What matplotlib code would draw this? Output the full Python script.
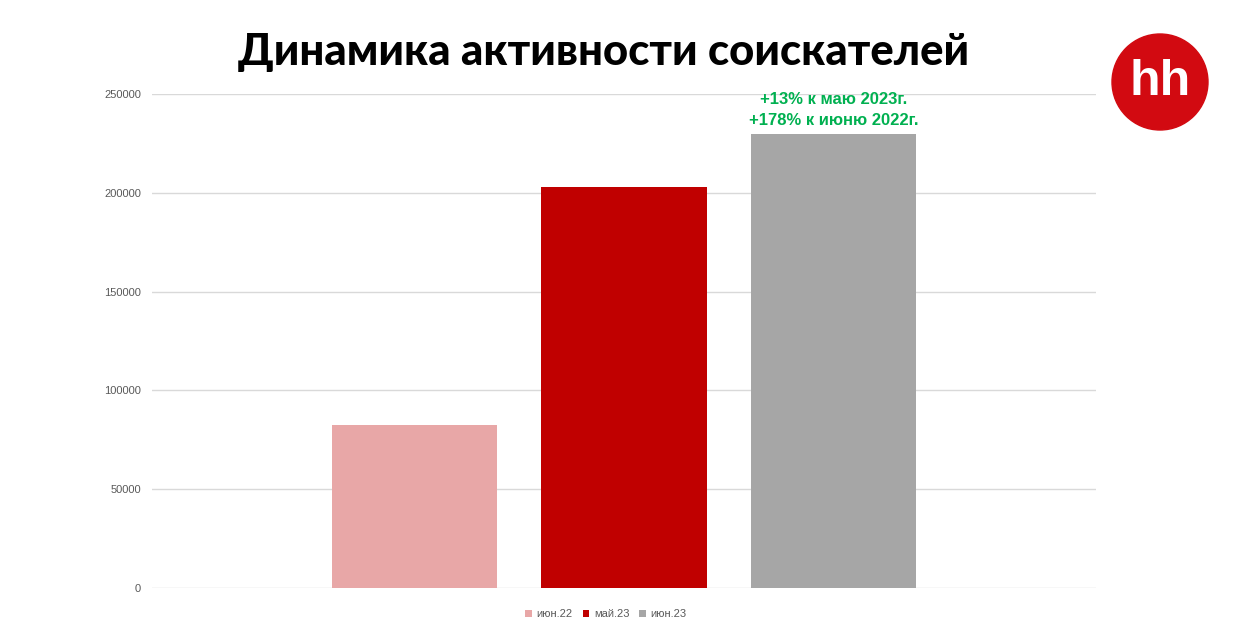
import matplotlib
matplotlib.use("Agg")
import matplotlib.pyplot as plt
from matplotlib.patches import Circle

labels = ["июн.22", "май.23", "июн.23"]
values = [82700, 203000, 230000]
colors = ["#E8A7A7", "#C00000", "#A6A6A6"]
yticks = [0, 50000, 100000, 150000, 200000, 250000]
title = "Динамика активности соискателей"
note = "+13% к маю 2023г.\n+178% к июню 2022г."

W, H = 1253, 637
fig = plt.figure(figsize=(W / 100, H / 100), dpi=100)
fig.patch.set_facecolor("white")

ax = fig.add_axes([152 / W, 1 - 588 / H, (1096 - 152) / W, (588 - 94) / H])
xs = [0, 1, 2]
for x, v, c, l in zip(xs, values, colors, labels):
    ax.bar(x, v, width=0.788, color=c, label=l, zorder=3)
ax.set_xlim(-1.253, 3.253)
ax.set_ylim(0, 250000)
ax.set_yticks(yticks)
ax.set_yticklabels([str(t) for t in yticks], fontsize=8, color="#595959",
                   family=["Liberation Sans", "DejaVu Sans"])
ax.tick_params(axis="y", length=0, pad=8)
ax.set_xticks([])
for s in ax.spines.values():
    s.set_visible(False)
ax.grid(axis="y", color="#D9D9D9", linewidth=1, zorder=0)
ax.set_axisbelow(True)

ax.text(xs[2], values[2] + 2800, note, ha="center", va="bottom", color="#00B050",
        fontsize=12, fontweight="bold", linespacing=1.5,
        family=["Liberation Sans", "DejaVu Sans"])

leg = fig.legend(handles=ax.patches, labels=labels, loc="center",
                 bbox_to_anchor=(606 / W, 1 - 614 / H), ncol=3, frameon=False,
                 handlelength=0.6, handleheight=0.6,
                 handletextpad=0.4, columnspacing=0.9,
                 prop={"family": ["Liberation Sans", "DejaVu Sans"], "size": 8})
for t in leg.get_texts():
    t.set_color("#595959")

fig.text(604 / W, 1 - 52 / H, title, ha="center", va="center", fontsize=31.5,
         fontweight="black", color="black", family=["Lato", "DejaVu Sans"])

lax = fig.add_axes([0, 0, 1, 1])
lax.set_xlim(0, W)
lax.set_ylim(H, 0)
lax.axis("off")
lax.add_patch(Circle((1160, 82), 48, color="#D20A11"))
lax.text(1160, 82, "hh", ha="center", va="center", color="white", fontsize=36,
         fontweight="bold", family=["Liberation Sans", "DejaVu Sans"])

fig.savefig("out.png", dpi=100, facecolor="white")
